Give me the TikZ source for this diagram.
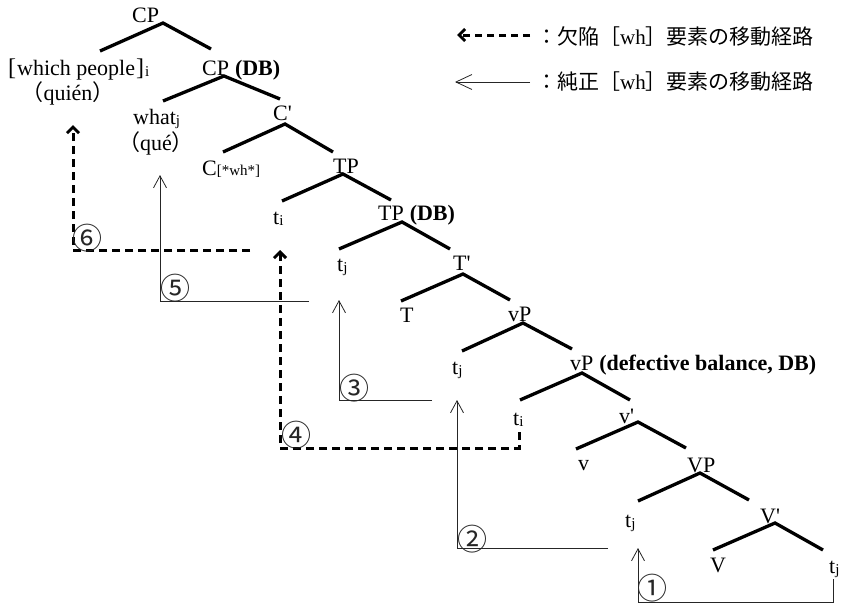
\documentclass[tikz,border=0pt]{standalone}
\usepackage{fontspec}
\setmainfont{Liberation Serif}
\newfontfamily\cjk{Noto Sans CJK JP}
\usetikzlibrary{arrows.meta,calc}
\newcommand\sbs[1]{\raisebox{-1pt}{\fontsize{15}{15}\selectfont #1}}
\newcommand\prm{\textquotesingle}
\newcommand\bigbr[1]{{\fontsize{24}{24}\selectfont #1}}
\newcommand\branch[6]{%
  \draw[branch] ($(#3.base west)+(#4)$) -- ($(#1.base west)+(#2)$) -- ($(#5.base west)+(#6)$);}
\begin{document}
\begin{tikzpicture}[x=1pt,y=-1pt,
  lbl/.style={inner sep=0pt, anchor=base west, font=\fontsize{22}{26}\selectfont},
  branch/.style={line width=3.3pt},
  defmove/.style={line width=3pt, dash pattern=on 8pt off 5pt, -{Straight Barb[length=6pt,width=12pt]}},
  puremove/.style={line width=0.8pt, draw=black!85, -{Straight Barb[length=12pt,width=13pt]}},
  num/.style={inner sep=0pt, font=\cjk\fontsize{30}{30}\selectfont, text=black!85},
  legtext/.style={inner sep=0pt, anchor=west, font=\cjk\fontsize{21}{21}\selectfont}
]
\useasboundingbox (0,0) rectangle (844,605);
% tree labels
\node[lbl] (cp) at (132,22) {CP};
\node[lbl] (wp) at (8,75) {\bigbr{[}\kern1pt which people\kern1pt\bigbr{]}\kern1pt\sbs{i}};
\node[lbl, anchor=base] (quien) at (68,100) {{\cjk（}quién{\cjk）}};
\node[lbl] (cpdb) at (202,75) {CP};
\node[lbl] (cpdbl) at (cpdb.base east) {\ \textbf{(DB)}};
\node[lbl] (what) at (133,124) {what\sbs{j}};
\node[lbl, anchor=base] (que) at (156,150) {{\cjk（}qué{\cjk）}};
\node[lbl] (cbar) at (273,120) {C\prm};
\node[lbl] (c) at (202,175) {C{\fontsize{15}{15}\selectfont[*wh*]}};
\node[lbl] (tp) at (333,173) {TP};
\node[lbl] (ti1) at (273,224) {t\sbs{i}};
\node[lbl] (tpdb) at (378,220) {TP};
\node[lbl] (tpdbl) at (tpdb.base east) {\ \textbf{(DB)}};
\node[lbl] (tj1) at (337,271) {t\sbs{j}};
\node[lbl] (tbar) at (453,270) {T\prm};
\node[lbl] (T) at (400,322) {T};
\node[lbl] (vp) at (508,321) {vP};
\node[lbl] (tj2) at (452,374) {t\sbs{j}};
\node[lbl] (vpdb) at (570,370) {vP};
\node[lbl] (vpdbl) at (vpdb.base east) {\ \textbf{(defective balance, DB)}};
\node[lbl] (ti2) at (513,425) {t\sbs{i}};
\node[lbl] (vbar) at (619,423) {v\prm};
\node[lbl] (v) at (578,470) {v};
\node[lbl] (VP) at (687,472) {VP};
\node[lbl] (tj3) at (625,527) {t\sbs{j}};
\node[lbl] (Vbar) at (760,523) {V\prm};
\node[lbl] (V) at (710,572) {V};
\node[lbl] (tj4) at (829,573) {t\sbs{j}};
% branches
\branch{cp}{31,1}{wp}{92,-24}{cpdb}{9,-26}
\branch{cpdb}{22,1}{what}{30,-23}{cbar}{7,-21}
\branch{cbar}{12,4}{c}{21,-23}{tp}{0,-21}
\branch{tp}{10,1}{ti1}{9,-23}{tpdb}{13,-20}
\branch{tpdb}{24,2}{tj1}{2,-22}{tbar}{-3,-21}
\branch{tbar}{10,4}{T}{1,-21}{vp}{2,-21}
\branch{vp}{15,2}{tj2}{10,-23}{vpdb}{2,-21}
\branch{vpdb}{12,3}{ti2}{7,-25}{vbar}{11,-23}
\branch{vbar}{19,-1}{v}{-2,-21}{VP}{-1,-24}
\branch{VP}{13,1}{tj3}{13,-26}{Vbar}{-11,-23}
\branch{Vbar}{15,0}{V}{3,-22}{tj4}{-6,-23}
% movement paths
\coordinate (p1a) at (833,579); \coordinate (p1b) at (638,548);
\coordinate (p2a) at (608,548); \coordinate (p2b) at (457,400);
\coordinate (p3a) at (432,400); \coordinate (p3b) at (339,300);
\coordinate (p4a) at (519,432); \coordinate (p4b) at (280,250);
\coordinate (p5a) at (309,301); \coordinate (p5b) at (160,175);
\coordinate (p6a) at (250,250); \coordinate (p6b) at (73,125);
\draw[puremove] (p1a) -- ++(0,23) -| (p1b);
\draw[puremove] (p2a) -| (p2b);
\draw[puremove] (p3a) -| (p3b);
\draw[defmove] (p4a) -- ++(0,16) -| (p4b);
\draw[puremove] (p5a) -| (p5b);
\draw[defmove] (p6a) -| (p6b);
\node[num] (n1) at (652,588) {①};
\node[num] (n2) at (472,539) {②};
\node[num] (n3) at (354,388) {③};
\node[num] (n4) at (296,435) {④};
\node[num] (n5) at (175,288) {⑤};
\node[num] (n6) at (87,238) {⑥};
% legend
\coordinate (l1a) at (530,35); \coordinate (l1b) at (457,35);
\coordinate (l2a) at (530,82); \coordinate (l2b) at (455,82);
\draw[line width=3pt, dash pattern=on 7pt off 5pt, -{Straight Barb[length=6pt,width=12pt]}] (l1a) -- (l1b);
\draw[line width=0.8pt, draw=black!85, -{Straight Barb[length=16pt,width=15pt]}] (l2a) -- (l2b);
\node[legtext] (leg1) at (536,36) {：欠陥［{\rmfamily wh}］要素の移動経路};
\node[legtext] (leg2) at (536,82) {：純正［{\rmfamily wh}］要素の移動経路};
\end{tikzpicture}
\end{document}
